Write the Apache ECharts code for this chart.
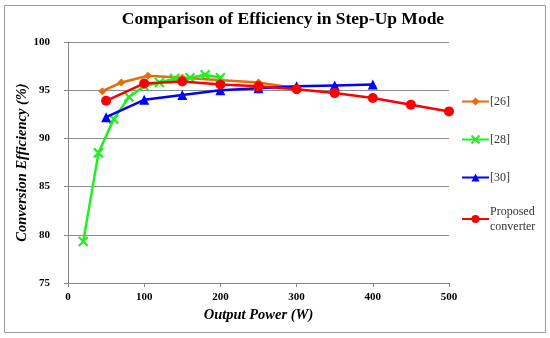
<!DOCTYPE html>
<html>
<head>
<meta charset="utf-8">
<script src="https://cdn.jsdelivr.net/npm/echarts@6/dist/echarts.min.js"></script>
<style>
html,body{margin:0;padding:0;background:#fff;}
#c{width:550px;height:338px;}
</style>
</head>
<body>
<div id="c"></div>
<script>
var seriesNames = ['[26]', '[28]', '[30]', 'Proposed\nconverter'];
var ref26 = [[45, 94.9], [70, 95.8], [105, 96.5], [150, 96.3], [250, 95.8], [300, 95.2]];
var ref28 = [[20, 79.3], [40, 88.5], [60, 92.0], [80, 94.3], [100, 95.4], [120, 95.8], [140, 96.2], [160, 96.3], [180, 96.6], [200, 96.3]];
var ref30 = [[50, 92.2], [100, 94.0], [150, 94.5], [200, 95.0], [250, 95.2], [300, 95.4], [350, 95.5], [400, 95.6]];
var proposed = [[50, 93.9], [100, 95.7], [150, 95.9], [200, 95.6], [250, 95.4], [300, 95.1], [350, 94.7], [400, 94.2], [450, 93.5], [500, 92.8]];
var xTicks = [0, 100, 200, 300, 400, 500];
var yTicks = [75, 80, 85, 90, 95, 100];

var colors = ['#E46C0A', '#22EE22', '#0000FF', '#FF0000'];
var serif = '"Liberation Serif", "DejaVu Serif", serif';
var crossPath = 'path://M0,0 L10,10 M10,0 L0,10';

function mkSeries(name, data, color, symbol, size, z) {
  var s = {
    name: name, type: 'line', data: data, symbol: symbol, symbolSize: size,
    lineStyle: { color: color, width: 2.5 },
    itemStyle: { color: color, borderColor: color, borderWidth: 0 },
    emphasis: { disabled: true }, z: z, animation: false
  };
  if (symbol === crossPath) {
    s.itemStyle = { color: 'transparent', borderColor: color, borderWidth: 2.2 };
  }
  return s;
}

function mkLegend(name, top) {
  return {
    data: [name], orient: 'vertical', left: 461, top: top,
    itemWidth: 27, itemHeight: 10, itemGap: 0,
    textStyle: { fontFamily: serif, fontSize: 12, color: '#333', lineHeight: 15, padding: [0, 0, 0, -4] },
    selectedMode: false, padding: 0
  };
}

var chart = echarts.init(document.getElementById('c'), null, { renderer: 'canvas' });
chart.setOption({
  backgroundColor: '#fff',
  animation: false,
  title: {
    text: 'Comparison of Efficiency in Step-Up Mode',
    left: 278, textAlign: 'center', top: 5,
    textStyle: { fontFamily: serif, fontSize: 17.5, fontWeight: 'bold', color: '#000' }
  },
  graphic: [{
    type: 'rect', shape: { x: 4.5, y: 5.5, width: 541, height: 327 },
    style: { fill: 'none', stroke: '#9a9a9a', lineWidth: 1 }, silent: true
  }],
  legend: [
    mkLegend(seriesNames[0], 94),
    mkLegend(seriesNames[1], 132),
    mkLegend(seriesNames[2], 170),
    mkLegend(seriesNames[3], 204)
  ],
  grid: { left: 68, right: 101, top: 42, bottom: 55, containLabel: false },
  xAxis: {
    type: 'value', min: xTicks[0], max: xTicks[xTicks.length - 1], interval: 100,
    name: 'Output Power (W)', nameLocation: 'middle', nameGap: 23,
    nameTextStyle: { fontFamily: serif, fontSize: 14.5, fontWeight: 'bold', fontStyle: 'italic', color: '#000' },
    axisLine: { show: true, lineStyle: { color: '#868686', width: 1 } },
    axisTick: { show: true, inside: false, length: 4, lineStyle: { color: '#868686' } },
    axisLabel: { margin: 9, fontFamily: serif, fontSize: 11, fontWeight: 'bold', color: '#000' },
    splitLine: { show: false }
  },
  yAxis: {
    type: 'value', min: yTicks[0], max: yTicks[yTicks.length - 1], interval: 5,
    name: 'Conversion Efficiency (%)', nameLocation: 'middle', nameGap: 38, nameRotate: 90,
    nameMoveOverlap: false,
    nameTextStyle: { fontFamily: serif, fontSize: 14.5, fontWeight: 'bold', fontStyle: 'italic', color: '#000' },
    axisLine: { show: true, lineStyle: { color: '#868686', width: 1 } },
    axisTick: { show: true, inside: false, length: 4, lineStyle: { color: '#868686' } },
    axisLabel: { margin: 18, fontFamily: serif, fontSize: 11, fontWeight: 'bold', color: '#000' },
    splitLine: { show: true, lineStyle: { color: '#8c8c8c', width: 1 } }
  },
  series: [
    mkSeries(seriesNames[0], ref26, colors[0], 'diamond', 8, 2),
    mkSeries(seriesNames[1], ref28, colors[1], crossPath, 9, 3),
    mkSeries(seriesNames[2], ref30, colors[2], 'triangle', 10, 4),
    mkSeries(seriesNames[3], proposed, colors[3], 'circle', 10, 5)
  ]
});
</script>
</body>
</html>
